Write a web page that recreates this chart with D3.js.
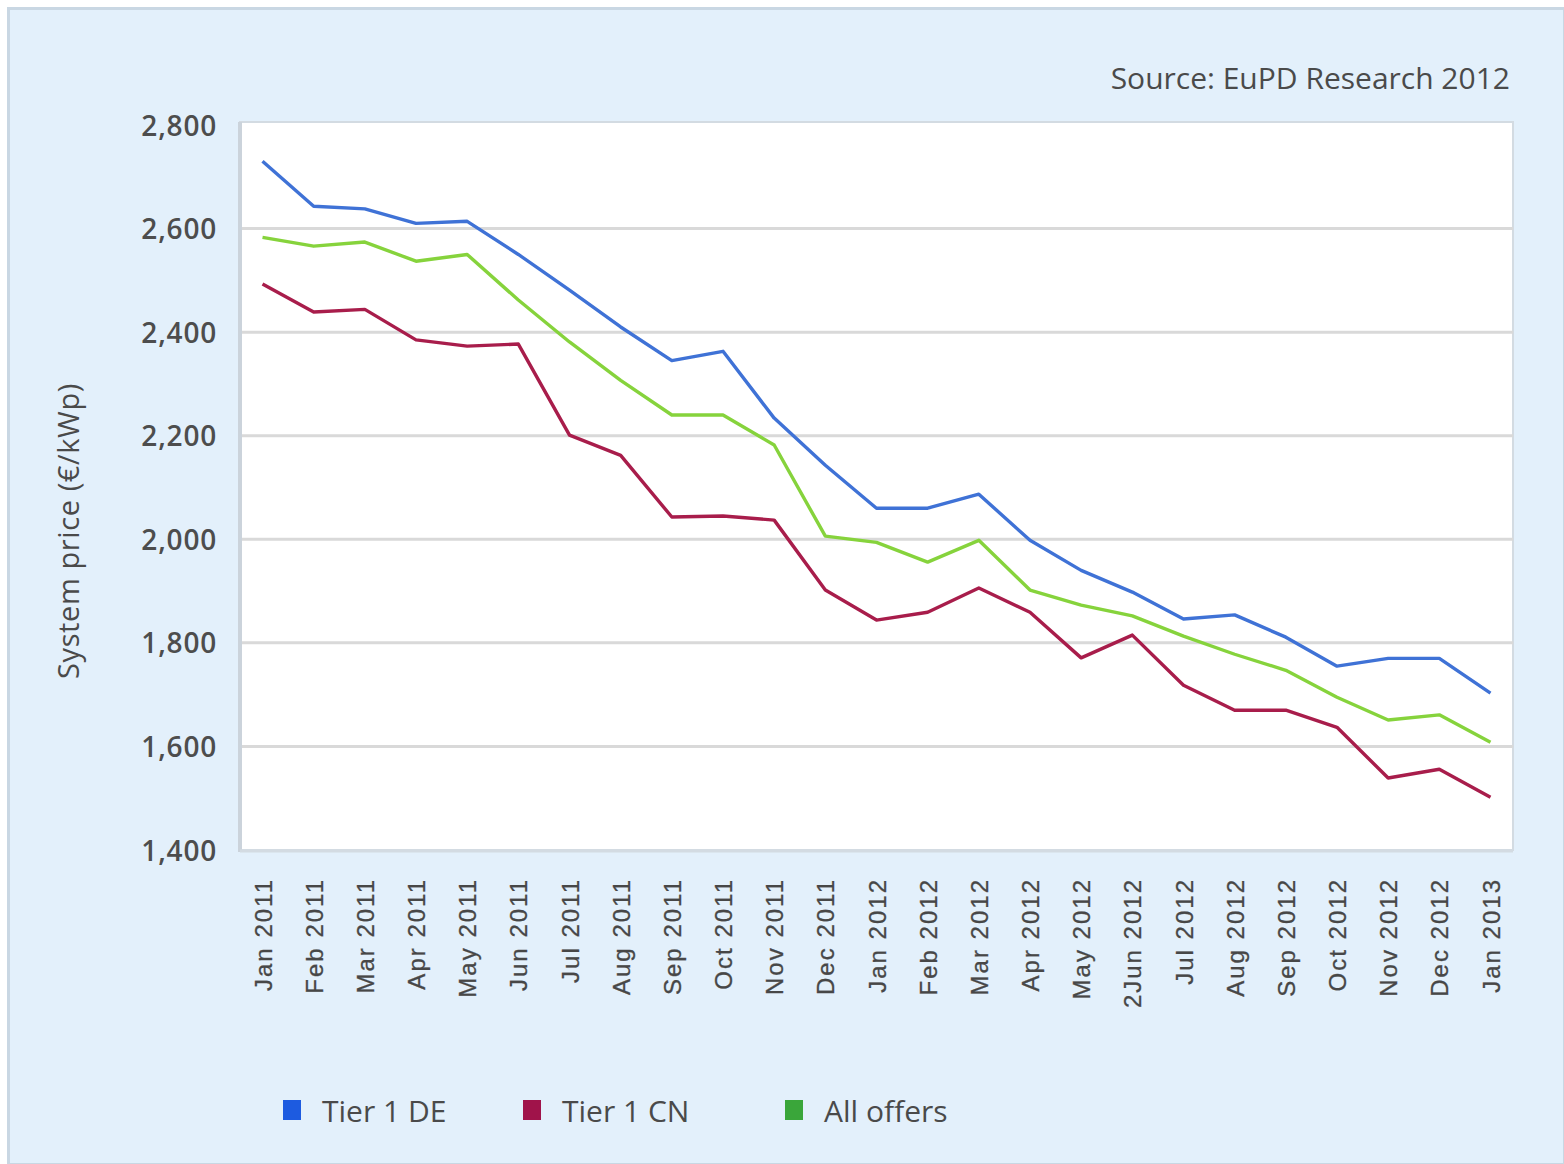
<!DOCTYPE html>
<html>
<head>
<meta charset="utf-8">
<script src="https://cdn.jsdelivr.net/npm/d3@7"></script>
<style>
  html, body { margin: 0; padding: 0; background: #ffffff; }
  svg { display: block; }
</style>
</head>
<body>
<div id="chart"></div>
<script>
// Monthly PV system prices (€/kWp), Jan 2011 – Jan 2013
const months = [
  "Jan 2011", "Feb 2011", "Mar 2011", "Apr 2011", "May 2011", "Jun 2011",
  "Jul 2011", "Aug 2011", "Sep 2011", "Oct 2011", "Nov 2011", "Dec 2011",
  "Jan 2012", "Feb 2012", "Mar 2012", "Apr 2012", "May 2012", "2Jun 2012",
  "Jul 2012", "Aug 2012", "Sep 2012", "Oct 2012", "Nov 2012", "Dec 2012",
  "Jan 2013"
];

const tier1DE = [
  2730, 2643, 2638, 2610, 2614, 2550, 2481, 2410, 2345, 2363, 2234, 2143,
  2060, 2060, 2087, 1998, 1940, 1898, 1846, 1854, 1811, 1755, 1770, 1770,
  1703
];

const tier1CN = [
  2493, 2439, 2444, 2385, 2373, 2377, 2201, 2162, 2043, 2045, 2037, 1902,
  1844, 1859, 1906, 1859, 1771, 1815, 1718, 1670, 1670, 1637, 1539, 1556,
  1502
];

const allOffers = [
  2583, 2566, 2574, 2537, 2550, 2462, 2381, 2307, 2240, 2240, 2182, 2006,
  1994, 1956, 1998, 1902, 1873, 1852, 1813, 1778, 1747, 1695, 1651, 1661,
  1608
];

const yTicks = [1400, 1600, 1800, 2000, 2200, 2400, 2600, 2800];

const seriesNames = ["Tier 1 DE", "Tier 1 CN", "All offers"];

const W = 1564, H = 1164;
const margin = { left: 240, right: 51, top: 125, bottom: 314 };

const lineColors = { "Tier 1 DE": "#3f72d6", "Tier 1 CN": "#a81d4b", "All offers": "#86d33c" };
const swatchColors = { "Tier 1 DE": "#1d5be0", "Tier 1 CN": "#a0134a", "All offers": "#3aa63a" };

const series = [
  { name: "Tier 1 DE", values: tier1DE },
  { name: "All offers", values: allOffers },
  { name: "Tier 1 CN", values: tier1CN }
];

const svg = d3.select("#chart").append("svg")
  .attr("width", W).attr("height", H);

// Panel background
svg.append("rect")
  .attr("x", 8.5).attr("y", 8.5)
  .attr("width", W - 8).attr("height", H - 8)
  .attr("fill", "#e3f0fb")
  .attr("stroke", "#c9d7e3").attr("stroke-width", 3);

const innerW = W - margin.left - margin.right;
const innerH = H - margin.top - margin.bottom;

const x = d3.scalePoint()
  .domain(months)
  .range([0, innerW])
  .padding(0.44);

const y = d3.scaleLinear()
  .domain([1400, 2800])
  .range([innerH, 0]);

const g = svg.append("g")
  .attr("transform", `translate(${margin.left},${margin.top})`);

// Plot area
g.append("rect")
  .attr("x", 0).attr("y", -3)
  .attr("width", innerW).attr("height", innerH + 3)
  .attr("fill", "#ffffff")
  .attr("stroke", "#d3dbe2").attr("stroke-width", 2);

// Gridlines
g.append("g")
  .selectAll("line")
  .data(yTicks.filter(t => t > 1400 && t < 2800))
  .join("line")
  .attr("x1", 0).attr("x2", innerW)
  .attr("y1", d => y(d)).attr("y2", d => y(d))
  .attr("stroke", "#d9d9d9").attr("stroke-width", 3);

// Left and bottom axis frame
g.append("line")
  .attr("x1", 0).attr("x2", 0).attr("y1", -3).attr("y2", innerH + 2)
  .attr("stroke", "#cbd3db").attr("stroke-width", 4);
g.append("line")
  .attr("x1", 0).attr("x2", innerW).attr("y1", innerH + 1).attr("y2", innerH + 1)
  .attr("stroke", "#d3dbe2").attr("stroke-width", 3);

// Y axis
const yAxis = g.append("g")
  .call(d3.axisLeft(y).tickValues(yTicks).tickSize(0).tickPadding(23)
    .tickFormat(d3.format(",")));
yAxis.select(".domain").remove();
yAxis.selectAll("text")
  .attr("font-family", "'Open Sans', 'Noto Sans', sans-serif")
  .attr("font-size", 28)
  .attr("font-weight", 600)
  .attr("letter-spacing", 0.8)
  .attr("fill", "#4d4d4d")
  .attr("dy", "0.36em");

// X axis with rotated month labels
const xAxis = g.append("g")
  .attr("transform", `translate(0,${innerH})`)
  .call(d3.axisBottom(x).tickSize(0).tickPadding(0));
xAxis.select(".domain").remove();
xAxis.selectAll("text")
  .attr("font-family", "'Liberation Sans', Arial, sans-serif")
  .attr("font-size", 24)
  .attr("letter-spacing", 2)
  .attr("fill", "#474747")
  .attr("stroke", "#474747")
  .attr("stroke-width", 0.3)
  .attr("text-anchor", "end")
  .attr("transform", "rotate(-90)")
  .attr("x", -28)
  .attr("y", 0)
  .attr("dy", "0.36em");

// Lines
const line = d3.line()
  .x((d, i) => x(months[i]))
  .y(d => y(d));

g.append("g")
  .selectAll("path")
  .data(series)
  .join("path")
  .attr("d", d => line(d.values))
  .attr("fill", "none")
  .attr("stroke", d => lineColors[d.name])
  .attr("stroke-width", 3.4)
  .attr("stroke-linejoin", "round");

// Y axis title
svg.append("text")
  .attr("transform", `translate(69,531) rotate(-90)`)
  .attr("text-anchor", "middle")
  .attr("dy", "0.35em")
  .attr("font-family", "'Open Sans', 'Noto Sans', sans-serif")
  .attr("font-size", 29)
  .attr("letter-spacing", 0.6)
  .attr("fill", "#4a4a4a")
  .text("System price (€/kWp)");

// Source note
svg.append("text")
  .attr("x", 1510).attr("y", 89)
  .attr("text-anchor", "end")
  .attr("font-family", "'Open Sans', 'Noto Sans', sans-serif")
  .attr("font-size", 30)
  .attr("fill", "#4a4a4a")
  .text("Source: EuPD Research 2012");

// Legend
const legendX = [283, 523, 785];
const legend = svg.append("g")
  .selectAll("g")
  .data(seriesNames)
  .join("g")
  .attr("transform", (d, i) => `translate(${legendX[i]},1100)`);
legend.append("rect")
  .attr("width", 18).attr("height", 20)
  .attr("fill", d => swatchColors[d]);
legend.append("text")
  .attr("x", 39).attr("y", 11)
  .attr("dy", "0.36em")
  .attr("font-family", "'Open Sans', 'Noto Sans', sans-serif")
  .attr("font-size", 30)
  .attr("fill", "#4a4a4a")
  .text(d => d);
</script>
</body>
</html>
